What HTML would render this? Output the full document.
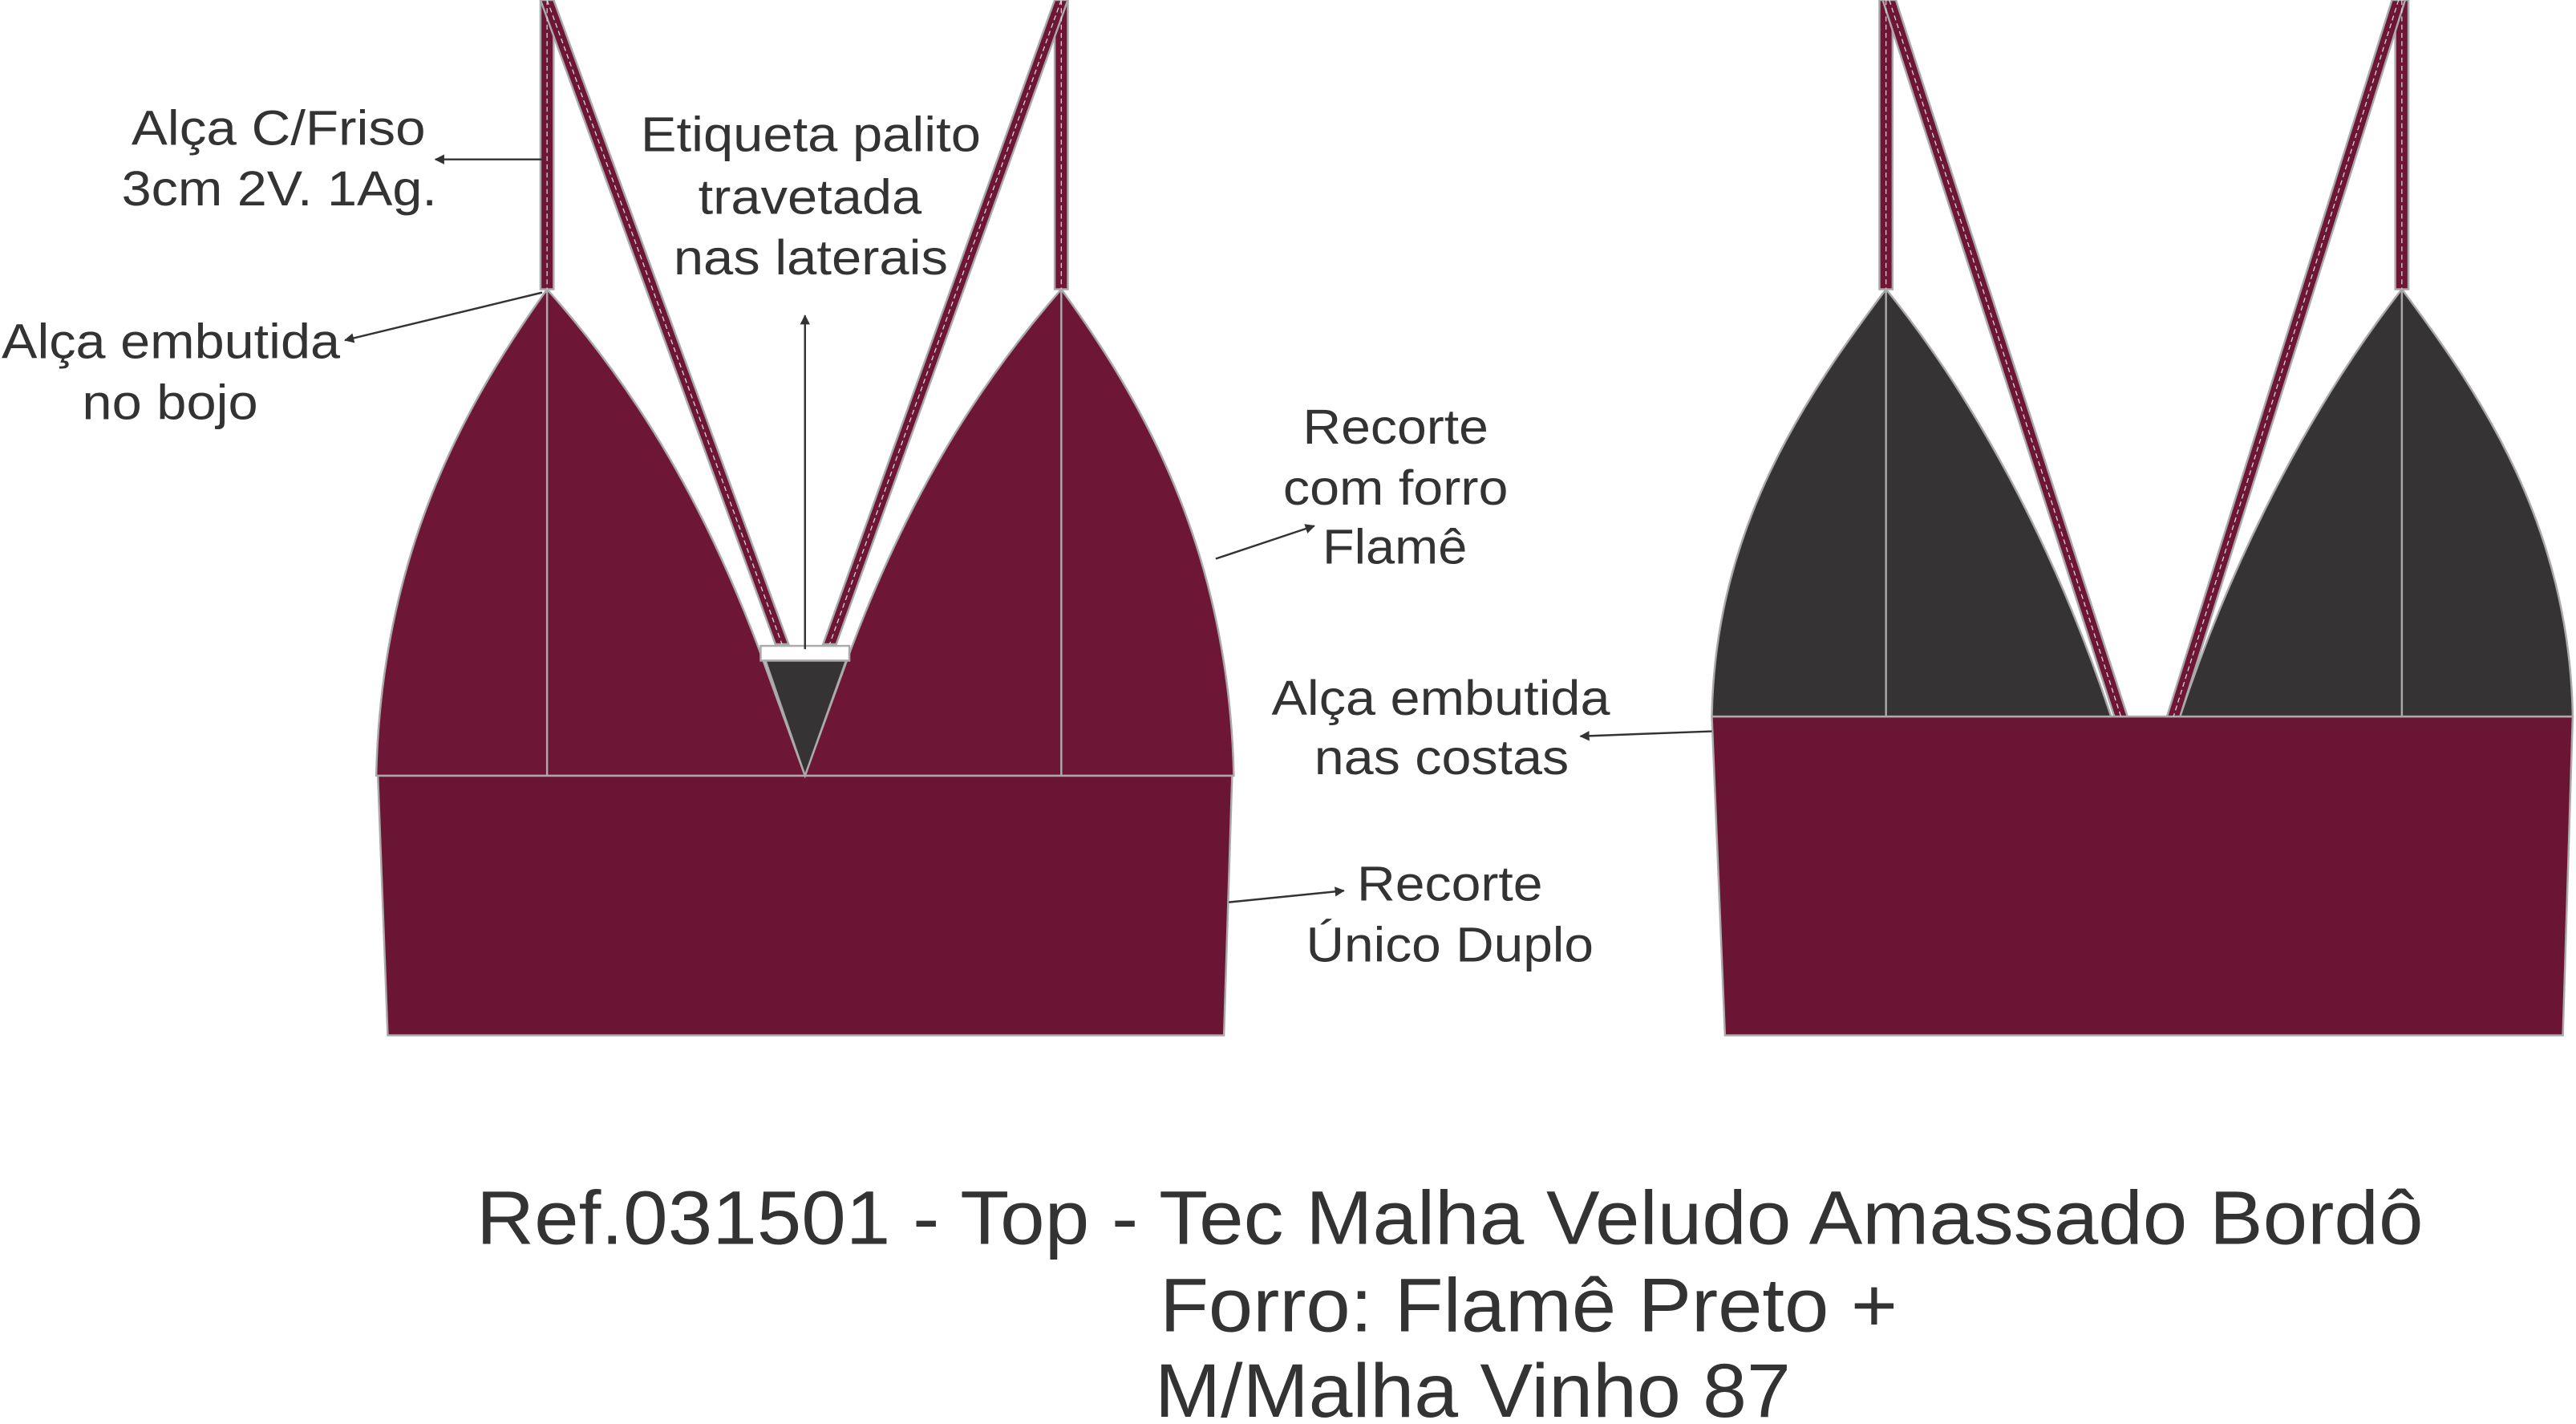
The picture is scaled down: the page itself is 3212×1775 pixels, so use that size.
<!DOCTYPE html>
<html><head><meta charset="utf-8"><style>html,body{margin:0;padding:0;background:#fff}svg{display:block}text{font-family:"Liberation Sans",Arial,sans-serif}</style></head>
<body>
<svg width="3212" height="1775" viewBox="0 0 1568 866.5" xmlns="http://www.w3.org/2000/svg">
<defs>
<marker id="ah" viewBox="0 0 10 10" refX="9" refY="5" markerWidth="5" markerHeight="5" orient="auto"><path d="M0,0 L10,5 L0,10 z" fill="#333"/></marker>
</defs>
<g stroke="#aaa" stroke-width="1.2">
<polygon points="230,472 750,472 745,630 236,630" fill="#6b1535"/>
<path d="M333,176 C280,250 232,340 229,472 L490,472 L462,395 C430,310 390,240 333,176 Z" fill="#6e1636"/>
<path d="M646,176 C700,250 748,340 751,472 L490,472 L518,395 C550,310 590,240 646,176 Z" fill="#6e1636"/>
<line x1="333" y1="176" x2="333" y2="472"/>
<line x1="646" y1="176" x2="646" y2="472"/>
<rect x="329" y="0" width="8" height="176" fill="#6e1636"/>
<rect x="642" y="0" width="8" height="176" fill="#6e1636"/>
<polygon points="329,0 337,0 480,392 472,392" fill="#6e1636"/>
<polygon points="642,0 650,0 509,392 501,392" fill="#6e1636"/>
<rect x="463" y="393" width="54" height="9" fill="#fff"/>
<polygon points="466,402 515,402 490,472" fill="#353334"/>
<polygon points="1042,436 1566,436 1560,630 1050,630" fill="#6b1535"/>
<path d="M1148,176 C1100,240 1044,320 1042,436 L1285,436 C1250,330 1200,240 1148,176 Z" fill="#353334"/>
<path d="M1462,176 C1510,240 1564,320 1566,436 L1327,436 C1362,330 1412,240 1462,176 Z" fill="#353334"/>
<line x1="1148" y1="176" x2="1148" y2="436"/>
<line x1="1462" y1="176" x2="1462" y2="436"/>
<rect x="1144" y="0" width="8" height="176" fill="#6e1636"/>
<rect x="1458" y="0" width="8" height="176" fill="#6e1636"/>
<polygon points="1146,0 1154,0 1295,436 1287,436" fill="#6e1636"/>
<polygon points="1456,0 1464,0 1327,436 1319,436" fill="#6e1636"/>
</g>
<g stroke="#ddd" stroke-width="0.6" stroke-dasharray="3,2">
<line x1="333" y1="0" x2="333" y2="176"/><line x1="646" y1="0" x2="646" y2="176"/>
<line x1="333" y1="0" x2="476" y2="392"/><line x1="646" y1="0" x2="505" y2="392"/>
<line x1="1148" y1="0" x2="1148" y2="176"/><line x1="1462" y1="0" x2="1462" y2="176"/>
<line x1="1150" y1="0" x2="1291" y2="436"/><line x1="1460" y1="0" x2="1323" y2="436"/>
</g>
<g stroke="#333" stroke-width="1.2" fill="none" marker-end="url(#ah)">
<line x1="330" y1="97" x2="265" y2="97"/>
<line x1="330" y1="178" x2="210" y2="207"/>
<line x1="490" y1="395" x2="490" y2="192"/>
<line x1="740" y1="340" x2="800" y2="320"/>
<line x1="1042" y1="445" x2="962" y2="448"/>
<line x1="748" y1="549" x2="818" y2="542"/>
</g>
<g fill="#333" font-size="30" lengthAdjust="spacingAndGlyphs">
<text x="80" y="88" textLength="179" lengthAdjust="spacingAndGlyphs">Alça C/Friso</text>
<text x="74" y="125" textLength="192" lengthAdjust="spacingAndGlyphs">3cm 2V. 1Ag.</text>
<text x="1" y="218" textLength="206" lengthAdjust="spacingAndGlyphs">Alça embutida</text>
<text x="50" y="255" textLength="107" lengthAdjust="spacingAndGlyphs">no bojo</text>
<text x="390" y="92" textLength="207" lengthAdjust="spacingAndGlyphs">Etiqueta palito</text>
<text x="425" y="130" textLength="136" lengthAdjust="spacingAndGlyphs">travetada</text>
<text x="410" y="167" textLength="167" lengthAdjust="spacingAndGlyphs">nas laterais</text>
<text x="793" y="270" textLength="113" lengthAdjust="spacingAndGlyphs">Recorte</text>
<text x="781" y="307" textLength="137" lengthAdjust="spacingAndGlyphs">com forro</text>
<text x="805" y="343" textLength="88" lengthAdjust="spacingAndGlyphs">Flamê</text>
<text x="774" y="435" textLength="206" lengthAdjust="spacingAndGlyphs">Alça embutida</text>
<text x="800" y="471" textLength="155" lengthAdjust="spacingAndGlyphs">nas costas</text>
<text x="826" y="548" textLength="113" lengthAdjust="spacingAndGlyphs">Recorte</text>
<text x="795" y="585" textLength="175" lengthAdjust="spacingAndGlyphs">Único Duplo</text>
<text x="290" y="757" font-size="46" textLength="1185" lengthAdjust="spacingAndGlyphs">Ref.031501 - Top - Tec Malha Veludo Amassado Bordô</text>
<text x="706" y="810" font-size="46" textLength="449" lengthAdjust="spacingAndGlyphs">Forro: Flamê Preto +</text>
<text x="703" y="862" font-size="46" textLength="387" lengthAdjust="spacingAndGlyphs">M/Malha Vinho 87</text>
</g>
</svg>
</body></html>
